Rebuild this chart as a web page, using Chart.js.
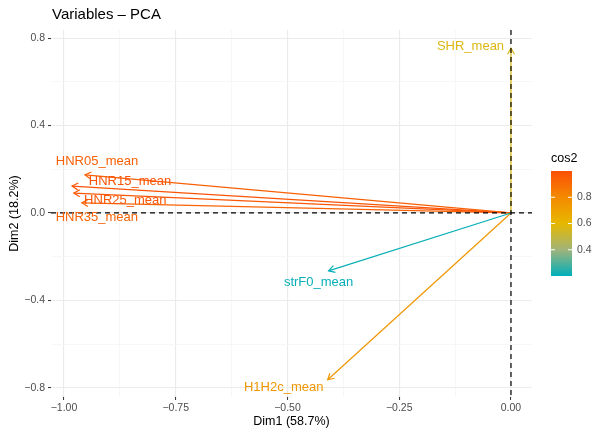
<!DOCTYPE html>
<html>
<head>
<meta charset="utf-8">
<script src="https://cdn.jsdelivr.net/npm/chart.js@4/dist/chart.umd.min.js"></script>
<style>
  html, body { margin: 0; padding: 0; background: #fff; }
  #wrap { width: 593px; height: 433px; position: relative; }
</style>
</head>
<body>
<div id="wrap"><canvas id="pca"></canvas></div>
<script>
// variables and their coordinates on Dim1 / Dim2
const varNames = ['SHR_mean', 'strF0_mean', 'H1H2c_mean', 'HNR05_mean', 'HNR15_mean', 'HNR25_mean', 'HNR35_mean'];
const dim1 = [0.0, -0.408, -0.41, -0.953, -0.982, -0.978, -0.960];
const dim2 = [0.754, -0.265, -0.763, 0.174, 0.123, 0.091, 0.046];
const cos2 = [0.57, 0.21, 0.75, 0.94, 0.98, 0.97, 0.93];

const xTicks = [-1.0, -0.75, -0.5, -0.25, 0.0];
const yTicks = [-0.8, -0.4, 0.0, 0.4, 0.8];
const cos2Ticks = [0.4, 0.6, 0.8];
const cos2Range = [0.2, 1.0];

// label placement (repelled), pixel offset from arrow tip
const labelShift = [[-40.5, -2], [-10, 12], [-44, 8], [12, -13], [58, -5], [51.5, 7], [15, 15]];

const FONT = '"Liberation Sans", Arial, Helvetica, sans-serif';

// gradient stops (teal -> yellow -> red-orange), rough Lab-like midpoints
const gradStops = [
    [0.0, [0, 175, 187]],
    [0.25, [160, 180, 122]],
    [0.5, [231, 184, 0]],
    [0.75, [243, 138, 0]],
    [1.0, [252, 78, 7]]
];

function cosColor(v) {
    let t = (v - cos2Range[0]) / (cos2Range[1] - cos2Range[0]);
    t = Math.max(0, Math.min(1, t));
    for (let i = 1; i < gradStops.length; i++) {
        if (t <= gradStops[i][0]) {
            let a = gradStops[i - 1], b = gradStops[i];
            let f = (t - a[0]) / (b[0] - a[0]);
            let c = a[1].map((x, k) => Math.round(x + (b[1][k] - x) * f));
            return `rgb(${c[0]},${c[1]},${c[2]})`;
        }
    }
    return 'rgb(252,78,7)';
}

function minorOf(arr) {
    let out = [];
    for (let i = 0; i < arr.length - 1; i++) out.push((arr[i] + arr[i + 1]) / 2);
    return out;
}

function isMajor(v, arr) {
    return arr.some(t => Math.abs(t - v) < 1e-6);
}

function fmt(v, d) {
    return v.toFixed(d).replace('-', '\u2212');
}

let colors = cos2.map(cosColor);

let datasets = varNames.map((n, i) => ({
    label: n,
    data: [{ x: 0, y: 0 }, { x: dim1[i], y: dim2[i] }],
    showLine: true,
    borderColor: colors[i],
    borderWidth: 1.2,
    pointRadius: 0,
    fill: false
}));

// arrows heads, zero lines, labels, titles and the colorbar legend
const decorPlugin = {
    id: 'decor',
    afterDatasetsDraw(chart) {
        let ctx = chart.ctx;
        let xs = chart.scales.x, ys = chart.scales.y;
        let area = chart.chartArea;

        // arrow heads
        for (let i = 0; i < varNames.length; i++) {
            let x0 = xs.getPixelForValue(0), y0 = ys.getPixelForValue(0);
            let x1 = xs.getPixelForValue(dim1[i]), y1 = ys.getPixelForValue(dim2[i]);
            let ang = Math.atan2(y1 - y0, x1 - x0);
            let len = 7;
            ctx.save();
            ctx.strokeStyle = colors[i];
            ctx.lineWidth = 1.2;
            ctx.beginPath();
            ctx.moveTo(x1 - len * Math.cos(ang - Math.PI / 6), y1 - len * Math.sin(ang - Math.PI / 6));
            ctx.lineTo(x1, y1);
            ctx.lineTo(x1 - len * Math.cos(ang + Math.PI / 6), y1 - len * Math.sin(ang + Math.PI / 6));
            ctx.stroke();
            ctx.restore();
        }

        // dashed zero lines
        ctx.save();
        ctx.strokeStyle = '#000';
        ctx.lineWidth = 1.2;
        ctx.setLineDash([5, 4]);
        let zx = xs.getPixelForValue(0), zy = ys.getPixelForValue(0);
        ctx.beginPath();
        ctx.moveTo(area.left, zy);
        ctx.lineTo(area.right, zy);
        ctx.stroke();
        ctx.beginPath();
        ctx.moveTo(zx, area.top);
        ctx.lineTo(zx, area.bottom);
        ctx.stroke();
        ctx.restore();

        // variable labels
        ctx.save();
        ctx.font = `13px ${FONT}`;
        ctx.textAlign = 'center';
        ctx.textBaseline = 'middle';
        for (let i = 0; i < varNames.length; i++) {
            let px = xs.getPixelForValue(dim1[i]) + labelShift[i][0];
            let py = ys.getPixelForValue(dim2[i]) + labelShift[i][1];
            ctx.fillStyle = colors[i];
            ctx.fillText(varNames[i], px, py);
        }
        ctx.restore();

        // titles
        ctx.save();
        ctx.fillStyle = '#000';
        ctx.font = `15px ${FONT}`;
        ctx.textAlign = 'left';
        ctx.textBaseline = 'middle';
        ctx.fillText('Variables \u2013 PCA', area.left + 1, 15);
        ctx.font = `12.5px ${FONT}`;
        ctx.textAlign = 'center';
        ctx.fillText('Dim1 (58.7%)', (area.left + area.right) / 2, 422);
        ctx.translate(15, (area.top + area.bottom) / 2);
        ctx.rotate(-Math.PI / 2);
        ctx.fillText('Dim2 (18.2%)', 0, 0);
        ctx.restore();

        // colorbar legend
        let barL = 551, barW = 21, barT = 171, barB = 276;
        ctx.save();
        let g = ctx.createLinearGradient(0, barB, 0, barT);
        gradStops.forEach(s => g.addColorStop(s[0], `rgb(${s[1].join(',')})`));
        ctx.fillStyle = g;
        ctx.fillRect(barL, barT, barW, barB - barT);
        ctx.font = `12.5px ${FONT}`;
        ctx.fillStyle = '#000';
        ctx.textAlign = 'left';
        ctx.textBaseline = 'middle';
        ctx.fillText('cos2', barL, 159);
        ctx.font = `10.5px ${FONT}`;
        ctx.fillStyle = '#4D4D4D';
        ctx.strokeStyle = '#fff';
        ctx.lineWidth = 1;
        cos2Ticks.forEach(v => {
            let y = barB - (v - cos2Range[0]) / (cos2Range[1] - cos2Range[0]) * (barB - barT);
            ctx.beginPath();
            ctx.moveTo(barL, y); ctx.lineTo(barL + 4, y);
            ctx.moveTo(barL + barW - 4, y); ctx.lineTo(barL + barW, y);
            ctx.stroke();
            ctx.fillText(v.toFixed(1), barL + barW + 5, y);
        });
        ctx.restore();
    }
};

function gridCfg(majors) {
    return {
        color: c => isMajor(c.tick.value, majors) ? '#EBEBEB' : '#F3F3F3',
        lineWidth: c => isMajor(c.tick.value, majors) ? 1.1 : 0.7,
        tickColor: c => isMajor(c.tick.value, majors) ? '#333333' : 'rgba(0,0,0,0)',
        tickLength: 3,
        tickWidth: 1,
        drawOnChartArea: true
    };
}

new Chart(document.getElementById('pca').getContext('2d'), {
    type: 'scatter',
    data: { datasets: datasets },
    options: {
        responsive: true,
        maintainAspectRatio: false,
        animation: false,
        layout: { padding: { top: 30, right: 61, left: 0, bottom: 0 } },
        plugins: { legend: { display: false }, tooltip: { enabled: false } },
        scales: {
            x: {
                type: 'linear',
                min: -1.029,
                max: 0.047,
                border: { display: false },
                grid: gridCfg(xTicks),
                afterBuildTicks: s => { s.ticks = xTicks.concat(minorOf(xTicks)).map(v => ({ value: v })); },
                afterFit: s => { s.height = 36; },
                ticks: {
                    autoSkip: false,
                    maxRotation: 0,
                    padding: 2,
                    color: '#4D4D4D',
                    font: { family: FONT, size: 10.5 },
                    callback: v => isMajor(v, xTicks) ? fmt(v, 2) : ''
                }
            },
            y: {
                type: 'linear',
                min: -0.842,
                max: 0.837,
                border: { display: false },
                grid: gridCfg(yTicks),
                afterBuildTicks: s => { s.ticks = yTicks.concat(minorOf(yTicks)).map(v => ({ value: v })); },
                afterFit: s => { s.width = 51; },
                ticks: {
                    autoSkip: false,
                    padding: 3,
                    color: '#4D4D4D',
                    font: { family: FONT, size: 10.5 },
                    callback: v => isMajor(v, yTicks) ? fmt(v, 1) : ''
                }
            }
        }
    },
    plugins: [decorPlugin]
});
</script>
</body>
</html>
